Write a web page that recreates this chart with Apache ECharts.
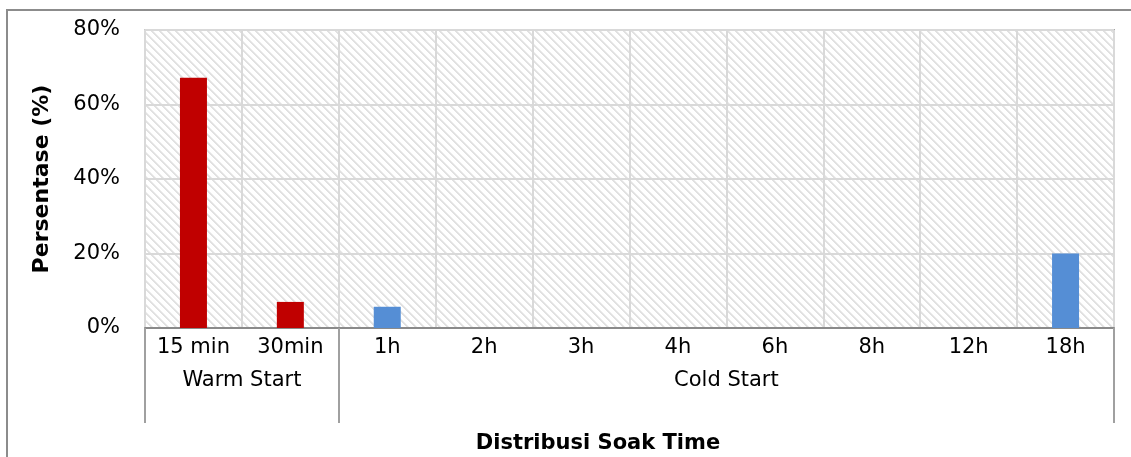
<!DOCTYPE html>
<html>
<head>
<meta charset="utf-8">
<script src="https://cdn.jsdelivr.net/npm/echarts@6/dist/echarts.min.js"></script>
<style>
  html, body { margin: 0; padding: 0; background: #fff; }
  #chart { width: 1131px; height: 457px; }
</style>
</head>
<body>
<div id="chart"></div>
<script>
// Soak time categories and their share of trips (%)
const categories = ['15 min', '30min', '1h', '2h', '3h', '4h', '6h', '8h', '12h', '18h'];
const percentages = [67.2, 7.0, 5.7, 0, 0, 0, 0, 0, 0, 20.0];

// Category groups (name, number of categories, bar colour)
const groupNames = ['Warm Start', 'Cold Start'];
const groupSizes = [2, 8];
const groupColors = ['#C00000', '#558ED5'];

const yTicks = [0, 20, 40, 60, 80];

// Which group each category belongs to, and where group boundaries fall
const groupOfCategory = [];
const groupStarts = [];
const groupCenters = [];
let pos = 0;
groupSizes.forEach((n, g) => {
  groupStarts.push(pos);
  groupCenters.push(pos + n / 2);
  for (let i = 0; i < n; i++) groupOfCategory.push(g);
  pos += n;
});

// Light diagonal hatch used for the plot background
function hatchPattern() {
  const size = 8;
  const c = document.createElement('canvas');
  c.width = size; c.height = size;
  const ctx = c.getContext('2d');
  ctx.fillStyle = '#ffffff';
  ctx.fillRect(0, 0, size, size);
  for (let y = 0; y < size; y++) {
    for (let x = 0; x < size; x++) {
      const d = ((x - y) % size + size) % size;
      if (d < 2) { ctx.fillStyle = '#e1e1e1'; ctx.fillRect(x, y, 1, 1); }
      else if (d === 2) { ctx.fillStyle = '#eeeeee'; ctx.fillRect(x, y, 1, 1); }
    }
  }
  return { image: c, repeat: 'repeat' };
}

const FONT = 'DejaVu Sans';
const chart = echarts.init(document.getElementById('chart'), null, { renderer: 'canvas' });

chart.setOption({
  animation: false,
  textStyle: { fontFamily: FONT },
  title: {
    text: 'Distribusi Soak Time',
    left: 593,
    top: 428,
    textAlign: 'center',
    textStyle: { fontFamily: FONT, fontWeight: 'bold', fontSize: 21, color: '#000' }
  },
  graphic: [{
    type: 'rect',
    shape: { x: 7, y: 10, width: 1200, height: 500 },
    style: { fill: 'none', stroke: '#8c8c8c', lineWidth: 2 },
    silent: true
  }],
  grid: {
    left: 145, right: 17, top: 30, bottom: 129,
    show: true,
    backgroundColor: hatchPattern(),
    borderColor: '#a6a6a6',
    borderWidth: 2
  },
  xAxis: [{
    type: 'category',
    data: categories,
    boundaryGap: true,
    position: 'bottom',
    axisLine: { show: true, lineStyle: { color: '#8a8a8a', width: 2 } },
    axisTick: {
      show: true,
      interval: (i) => groupStarts.includes(i),
      length: 95,
      lineStyle: { color: '#a0a0a0', width: 2 }
    },
    axisLabel: { interval: 0, margin: 9, fontSize: 21, color: '#000', fontFamily: FONT },
    splitLine: { show: true, interval: 0, lineStyle: { color: '#d9d9d9', width: 2 } }
  }, {
    type: 'value',
    position: 'bottom',
    offset: 38,
    min: 0,
    max: categories.length,
    interval: 1,
    axisLine: { show: false },
    axisTick: { show: false },
    splitLine: { show: false },
    axisLabel: {
      margin: 4,
      fontSize: 21,
      color: '#000',
      fontFamily: FONT,
      showMinLabel: false,
      showMaxLabel: false,
      formatter: (v) => {
        const g = groupCenters.indexOf(v);
        return g >= 0 ? groupNames[g] : '';
      }
    }
  }],
  yAxis: {
    type: 'value',
    min: yTicks[0],
    max: yTicks[yTicks.length - 1],
    interval: yTicks[1] - yTicks[0],
    name: 'Persentase (%)',
    nameLocation: 'middle',
    nameGap: 92,
    nameTextStyle: { fontFamily: FONT, fontWeight: 'bold', fontSize: 22, color: '#000' },
    axisLine: { show: true, lineStyle: { color: '#d9d9d9', width: 2 } },
    axisTick: { show: false },
    axisLabel: { margin: 25, fontSize: 21, color: '#000', fontFamily: FONT, formatter: '{value}%' },
    splitLine: { show: true, lineStyle: { color: '#d9d9d9', width: 2 } }
  },
  series: [{
    type: 'bar',
    xAxisIndex: 0,
    barWidth: 27,
    data: percentages.map((v, i) => ({
      value: v,
      itemStyle: { color: groupColors[groupOfCategory[i]] }
    }))
  }]
});
</script>
</body>
</html>
